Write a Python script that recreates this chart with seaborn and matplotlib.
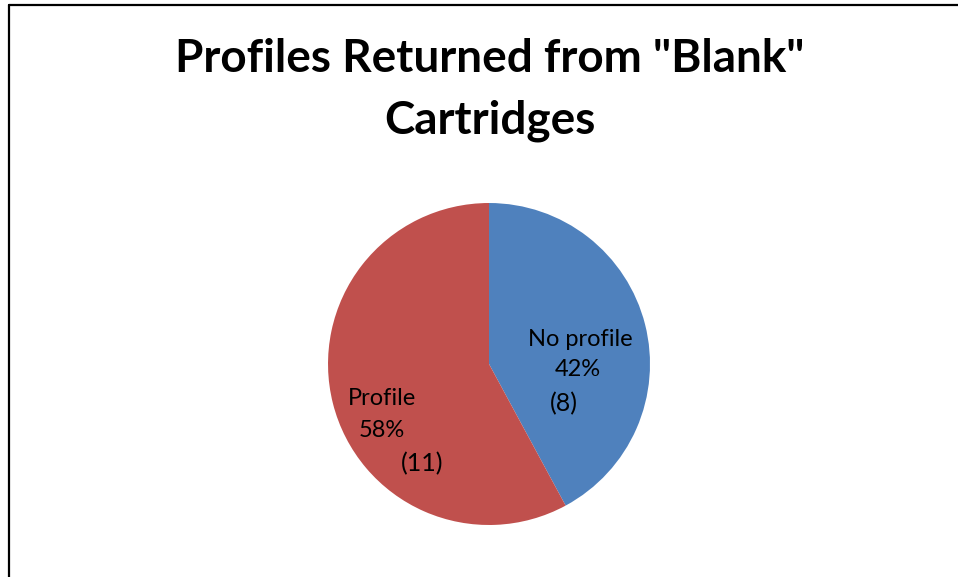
import matplotlib
matplotlib.use('Agg')
import matplotlib.pyplot as plt
import seaborn as sns
from matplotlib.lines import Line2D

# data
categories = ['No profile', 'Profile']
counts = [8, 11]
colours = ['#4F81BD', '#C0504D']

sns.set_theme(style='white')
plt.rcParams['font.family'] = ['Lato', 'DejaVu Sans']
plt.rcParams['text.color'] = 'black'

fig = plt.figure(figsize=(9.58, 5.77), dpi=100)
fig.patch.set_facecolor('white')

# pie axes placed so radius ~161px, centre ~(489, 364)
ax = fig.add_axes([0.3424, 0.0901, 0.3361, 0.5581])
ax.pie(counts, colors=colours, startangle=90, counterclock=False,
       wedgeprops={'linewidth': 0})
ax.set_xlim(-1, 1)
ax.set_ylim(-1, 1)
ax.set_aspect('equal')

total = sum(counts)
pcts = [round(100 * c / total) for c in counts]

# label positions (pie units), moved by hand like in the original
name_pos = [(0.565, 0.155), (-0.665, -0.217)]
pct_pos = [(0.553, -0.037), (-0.665, -0.416)]
cnt_pos = [(0.466, -0.248), (-0.416, -0.621)]
for i in range(len(categories)):
    ax.text(*name_pos[i], categories[i], ha='center', va='center', fontsize=17, color='black')
    ax.text(*pct_pos[i], f'{pcts[i]}%', ha='center', va='center', fontsize=17, color='black')
    ax.text(*cnt_pos[i], f'({counts[i]})', ha='center', va='center', fontsize=18, color='black')

fig.text(0.5115, 0.898, 'Profiles Returned from "Blank"', ha='center', va='center',
         fontsize=33, fontweight='bold', color='black')
fig.text(0.5115, 0.79, 'Cartridges', ha='center', va='center',
         fontsize=33, fontweight='bold', color='black')

# chart border (only top and left are visible in the crop)
fig.add_artist(Line2D([0.009, 1.0], [0.9922, 0.9922], color='black', lw=1.6,
                      transform=fig.transFigure))
fig.add_artist(Line2D([0.0094, 0.0094], [0.0, 0.9922], color='black', lw=1.6,
                      transform=fig.transFigure))

fig.savefig('out.png', dpi=100)
